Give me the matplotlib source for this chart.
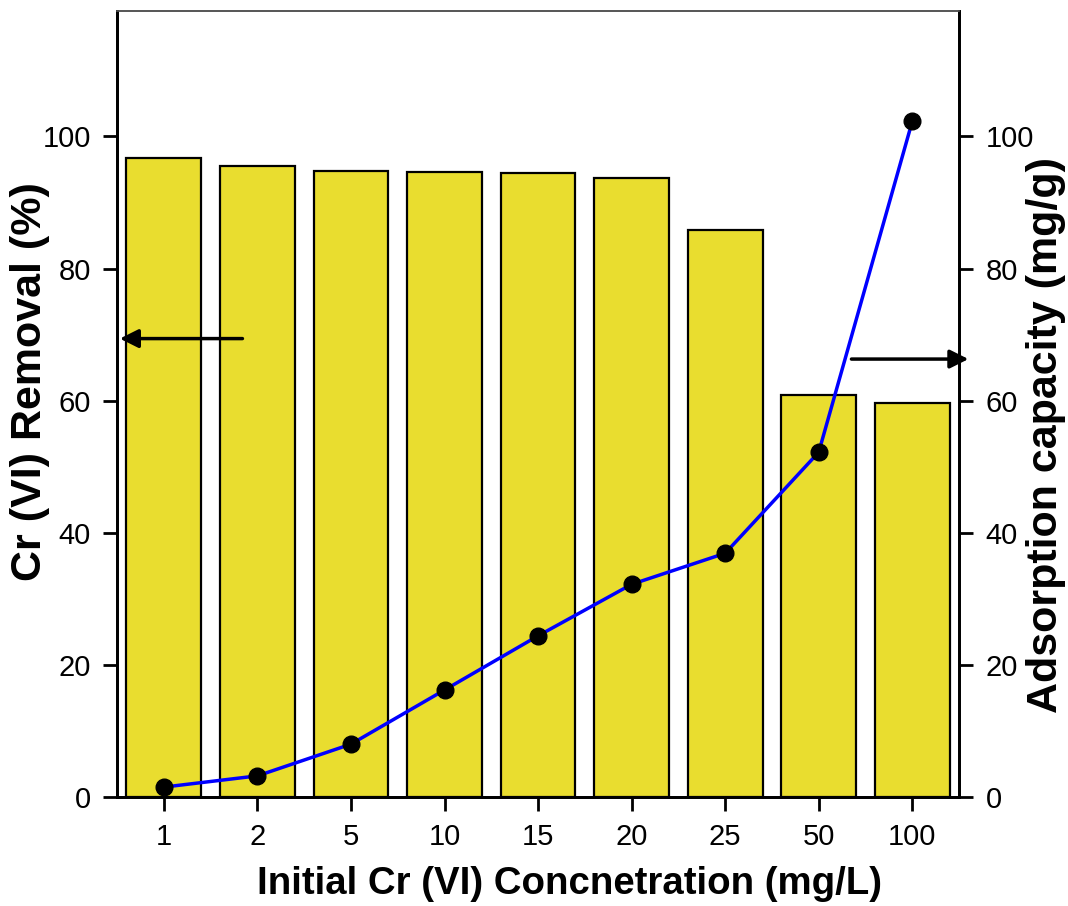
import matplotlib.pyplot as plt
import numpy as np

plt.rcParams['font.family'] = ['Liberation Sans', 'DejaVu Sans']

concentrations = ['1', '2', '5', '10', '15', '20', '25', '50', '100']
removal = [96.7, 95.6, 94.8, 94.6, 94.4, 93.7, 85.9, 60.9, 59.7]
capacity = [1.5, 3.2, 8.0, 16.2, 24.4, 32.2, 36.9, 52.2, 102.3]

fig = plt.figure(figsize=(10.68, 9.06), dpi=100)
ax = fig.add_axes([0.1096, 0.1203, 0.7884, 0.8676])
x = np.arange(len(concentrations))

ax.bar(x, removal, width=0.8, color='#E9DD2F', edgecolor='black', linewidth=1.6, zorder=2)
ax.set_xlim(-0.5, 8.5)
ax.set_ylim(0, 119)
ax.set_yticks([0, 20, 40, 60, 80, 100])
ax.set_xticks(x)
ax.set_xticklabels(concentrations)

ax2 = ax.twinx()
ax2.plot(x, capacity, color='#0000FF', lw=2.5, marker='o', markersize=12,
         markerfacecolor='black', markeredgecolor='black', zorder=3)
ax2.set_ylim(0, 119)
ax2.set_yticks([0, 20, 40, 60, 80, 100])

for a in (ax, ax2):
    a.tick_params(direction='out', length=10, width=2, labelsize=21, pad=9)
    for s in a.spines.values():
        s.set_linewidth(2)
    a.spines['top'].set_color('#555555')
    a.spines['top'].set_linewidth(1.2)

ax.set_xlabel('Initial Cr (VI) Concnetration (mg/L)', fontsize=27.6, fontweight='bold')
ax.set_ylabel('Cr (VI) Removal (%)', fontsize=31, fontweight='bold')
ax2.set_ylabel('Adsorption capacity (mg/g)', fontsize=31, fontweight='bold',
               rotation=90)
ax.xaxis.set_label_coords(0.537, -0.088)
ax.yaxis.set_label_coords(-0.08, 0.528)
ax2.yaxis.set_label_coords(1.079, 0.461)

# arrows pointing to the matching axis
ax.annotate('', xy=(-0.5, 69.4), xytext=(0.87, 69.4),
            arrowprops=dict(arrowstyle='-|>', color='black', lw=2.5,
                            mutation_scale=28), annotation_clip=False)
ax.annotate('', xy=(8.63, 66.3), xytext=(7.32, 66.3),
            arrowprops=dict(arrowstyle='-|>', color='black', lw=2.5,
                            mutation_scale=28), annotation_clip=False)

fig.savefig('out.png', dpi=100)
